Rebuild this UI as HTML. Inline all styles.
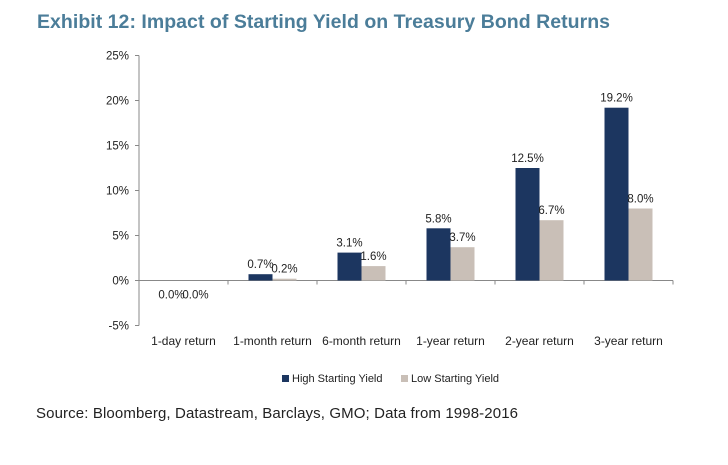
<!DOCTYPE html>
<html><head><meta charset="utf-8"><style>
body{margin:0;background:#fff;width:728px;height:460px;overflow:hidden;font-family:"Liberation Sans",sans-serif}
</style></head><body>
<svg width="728" height="460" id="svg" font-family="Liberation Sans, sans-serif">
<text x="37" y="28" font-size="19.5" font-weight="bold" fill="#4b7d99" textLength="573">Exhibit 12: Impact of Starting Yield on Treasury Bond Returns</text>
<text x="36" y="418" font-size="15" fill="#222" textLength="482">Source:  Bloomberg, Datastream, Barclays, GMO; Data from 1998-2016</text>
<g>
<rect x="282" y="375" width="7" height="7" fill="#1c3660"/>
<text x="292" y="382" font-size="11" fill="#222">High Starting Yield</text>
<rect x="401" y="375" width="7" height="7" fill="#c9bfb7"/>
<text x="411" y="382" font-size="11" fill="#222">Low Starting Yield</text>
</g>
</svg>
<script>
const categories=["1-day return","1-month return","6-month return","1-year return","2-year return","3-year return"];
const highValues=[0.0,0.7,3.1,5.8,12.5,19.2];
const lowValues=[0.0,0.2,1.6,3.7,6.7,8.0];
const yTicks=[-5,0,5,10,15,20,25];
const NS="http://www.w3.org/2000/svg";
const svg=document.getElementById('svg');
const x0=139,catW=89,y0=280.5,pxPer=9;
const y=v=>y0-v*pxPer;
function mk(t,a){const e=document.createElementNS(NS,t);for(const k in a)e.setAttribute(k,a[k]);svg.appendChild(e);return e;}
let ax=mk('line',{x1:x0,x2:x0,y1:y(25),y2:y(-5),stroke:'#888'});


let zx=mk('line',{x1:x0,x2:x0+catW*categories.length,y1:y0,y2:y0,stroke:'#888'});


yTicks.forEach(v=>{
 mk('line',{x1:x0-4,x2:x0,y1:y(v),y2:y(v),stroke:'#888'});
 const t=mk('text',{x:x0-10,y:y(v)+4,'font-size':11.5,'text-anchor':'end',fill:'#222'});
 t.textContent=v+'%';
 
 
});
categories.forEach((c,i)=>{
 const cx=x0+catW*(i+0.5);
 mk('line',{x1:x0+catW*(i+1),x2:x0+catW*(i+1),y1:y0,y2:y0+4,stroke:'#888'});
 const l=mk('text',{x:cx,y:345,'font-size':12,'text-anchor':'middle',fill:'#222'});
 l.textContent=c;
 
 
 [[highValues[i],'#1c3660',-24,'high'],[lowValues[i],'#c9bfb7',0,'low']].forEach(([v,col,off,nm])=>{
  const bx=cx+off;
  const r=mk('rect',{x:bx,y:Math.min(y(v),y0),width:24,height:Math.abs(y(v)-y0),fill:col});
  
  
  const ty=v===0?y0+18:y(v)-6;
  const t=mk('text',{x:bx+12,y:ty,'font-size':11.5,'text-anchor':'middle',fill:'#222'});
  t.textContent=v.toFixed(1)+'%';
  
  
 });
});
</script>
</body></html>
